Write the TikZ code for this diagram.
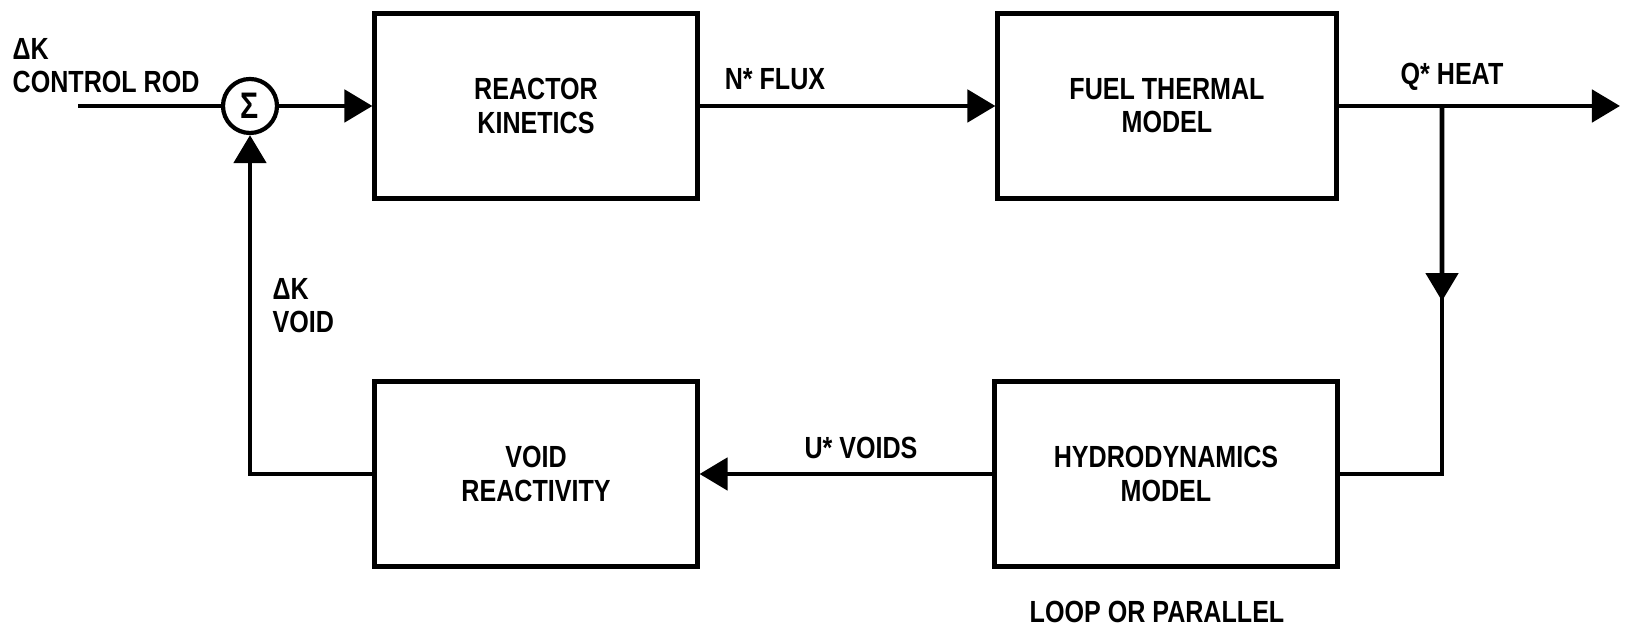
\documentclass[tikz,border=0pt]{standalone}
\usepackage{fontspec}
\setmainfont{Liberation Sans}[FakeStretch=0.82]
\usetikzlibrary{arrows.meta,positioning,calc}
\tikzset{
  >={Triangle[length=2.8mm,width=3.2mm]},
  block/.style={draw,line width=1.4pt,minimum width=3.22cm,minimum height=1.84cm,
    align=center,font=\fontsize{8.7}{9.4}\selectfont\bfseries,inner sep=0pt},
  sumnode/.style={circle,draw,line width=1.2pt,minimum size=5.4mm,inner sep=0pt,
    font=\fontsize{10.5}{10.5}\selectfont\bfseries},
  lbl/.style={font=\fontsize{8.7}{9.4}\selectfont\bfseries,inner sep=0pt},
  flow/.style={line width=1.4pt},
}
\begin{document}
\begin{tikzpicture}[x=0.01cm,y=-0.01cm]
    \useasboundingbox (0,0) rectangle (1626,625);
    % blocks
    \node[sumnode] (sum) at (250,106) {Σ};
    \node[block] (rk) at (536,106) {REACTOR\\KINETICS};
    \node[block,minimum width=3.38cm] (ft) at (1167,106) {FUEL THERMAL\\MODEL};
    \node[block] (vr) at (536,474) {VOID\\REACTIVITY};
    \node[block,minimum width=3.42cm] (hd) at (1166,474) {HYDRODYNAMICS\\MODEL};
    \coordinate (in) at (78,106);
    \coordinate (tap) at (1442,106);
    \coordinate (out) at (1620,106);
    % labels
    \node[lbl,align=left,anchor=west] (ctl) at (12,66) {ΔK\\CONTROL ROD};
    \node[lbl,align=left,anchor=west] (dkv) at (272,306) {ΔK\\VOID};
    \node[lbl] (nflux) at (775,79) {N* FLUX};
    \node[lbl] (qheat) at (1452,77) {Q* HEAT};
    \node[lbl] (uvoid) at (861,448) {U* VOIDS};
    \node[lbl] (loop) at (1157,612) {LOOP OR PARALLEL};
    % connectors
    \draw[flow] (in) -- (sum.west);
    \draw[flow,->] (sum) -- (rk);
    \draw[flow,->] (rk) -- (ft);
    \draw[flow,->] (ft) -- (out);
    \draw[flow,->] (tap) -- ($(tap)!0.53!(tap |- hd)$);
    \draw[flow] (tap) |- (hd);
    \draw[flow,->] (hd) -- (vr);
    \draw[flow,->] (vr) -| (sum);
  \end{tikzpicture}
\end{document}
